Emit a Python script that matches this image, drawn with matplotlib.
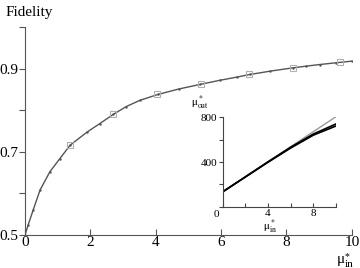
import numpy as np
import matplotlib
matplotlib.use("Agg")
import matplotlib.pyplot as plt

plt.rcParams['font.family'] = ['Liberation Serif', 'DejaVu Serif']
plt.rcParams['mathtext.fontset'] = 'stix'

# main curve
mu_in = [0.0, 0.1, 0.25, 0.46, 0.76, 1.07, 1.38, 1.89, 2.29, 2.7, 3.1, 3.52,
         4.07, 4.7, 5.35, 5.96, 6.5, 6.88, 7.5, 8.2, 8.6, 9.02, 9.5, 9.99]
fidelity = [0.5, 0.525, 0.56, 0.608, 0.652, 0.684, 0.716, 0.747, 0.768, 0.790,
            0.809, 0.824, 0.838, 0.851, 0.862, 0.872, 0.880, 0.886, 0.894,
            0.902, 0.906, 0.910, 0.914, 0.918]

# open squares
sq_x = [1.38, 2.7, 4.05, 5.4, 6.85, 8.2, 9.65]
sq_y = [0.716, 0.792, 0.838, 0.863, 0.886, 0.902, 0.915]

# inset: mu_out vs mu_in
ins_x = [0, 2, 4, 6, 8, 10]
ins_gray = [134, 268, 402, 537, 671, 805]
ins_black1 = [134, 266, 398, 525, 640, 722]
ins_black2 = [134, 268, 402, 532, 650, 740]

fig = plt.figure(figsize=(3.6, 2.68), dpi=100)
ax = fig.add_axes([0.0694, 0.123, 0.908, 0.776])

ax.plot(mu_in, fidelity, color='#555555', lw=1.0, marker='.', ms=1.5)
ax.plot(sq_x, sq_y, ls='none', marker='s', ms=4, mfc='none', mec='#b0b0b0', mew=0.8)

ax.set_xlim(0, 10)
ax.set_ylim(0.5, 1.0)
ax.set_xticks([0, 2, 4, 6, 8, 10])
ax.set_yticks([0.5, 0.6, 0.7, 0.8, 0.9, 1.0])
ax.set_yticklabels(['0.5', '', '0.7', '', '0.9', ''])
for s in ['top', 'right']:
    ax.spines[s].set_visible(False)
for s in ['left', 'bottom']:
    ax.spines[s].set_color('#555555')
ax.tick_params(axis='x', direction='in', length=4, color='#555555', labelsize=11, pad=1)
ax.tick_params(axis='y', direction='out', length=4, color='#555555', labelsize=11, pad=1)

fig.text(0.015, 0.955, 'Fidelity', fontsize=11, va='center', ha='left')
# x label of the main axes: mu*_in built from pieces
fig.text(0.958, 0.018, 'μ', fontsize=11, ha='right', va='baseline')
fig.text(0.958, 0.004, 'in', fontsize=8, ha='left', va='baseline')
fig.text(0.963, 0.035, '*', fontsize=7, ha='center', va='baseline')

# inset
ins = fig.add_axes([0.619, 0.2287, 0.314, 0.3336])
ins.plot(ins_x, ins_gray, color='#999999', lw=1.0)
ins.plot(ins_x, ins_black1, color='black', lw=1.2)
ins.plot(ins_x, ins_black2, color='black', lw=1.2)
ins.set_xlim(0, 10)
ins.set_ylim(0, 800)
ins.set_xticks([0, 2, 4, 6, 8, 10])
ins.set_xticklabels(['', '', '4', '', '8', ''])
ins.set_yticks([0, 200, 400, 600, 800])
ins.set_yticklabels(['', '', '400', '', '800'])
for s in ['top', 'right']:
    ins.spines[s].set_visible(False)
for s in ['left', 'bottom']:
    ins.spines[s].set_color('#444444')
ins.tick_params(axis='x', direction='in', length=3, color='#444444', labelsize=8, pad=2)
ins.tick_params(axis='y', direction='out', length=3, color='#444444', labelsize=8, pad=1)
ins.patch.set_alpha(0)
fig.text(0.602, 0.215, '0', fontsize=8, ha='center', va='top')
fig.text(0.556, 0.615, r'$\mathrm{\mu}^*_{\mathrm{out}}$', fontsize=8, ha='center', va='center')
fig.text(0.75, 0.152, r'$\mathrm{\mu}^*_{\mathrm{in}}$', fontsize=8, ha='center', va='center')

fig.savefig('out.png', dpi=100)
